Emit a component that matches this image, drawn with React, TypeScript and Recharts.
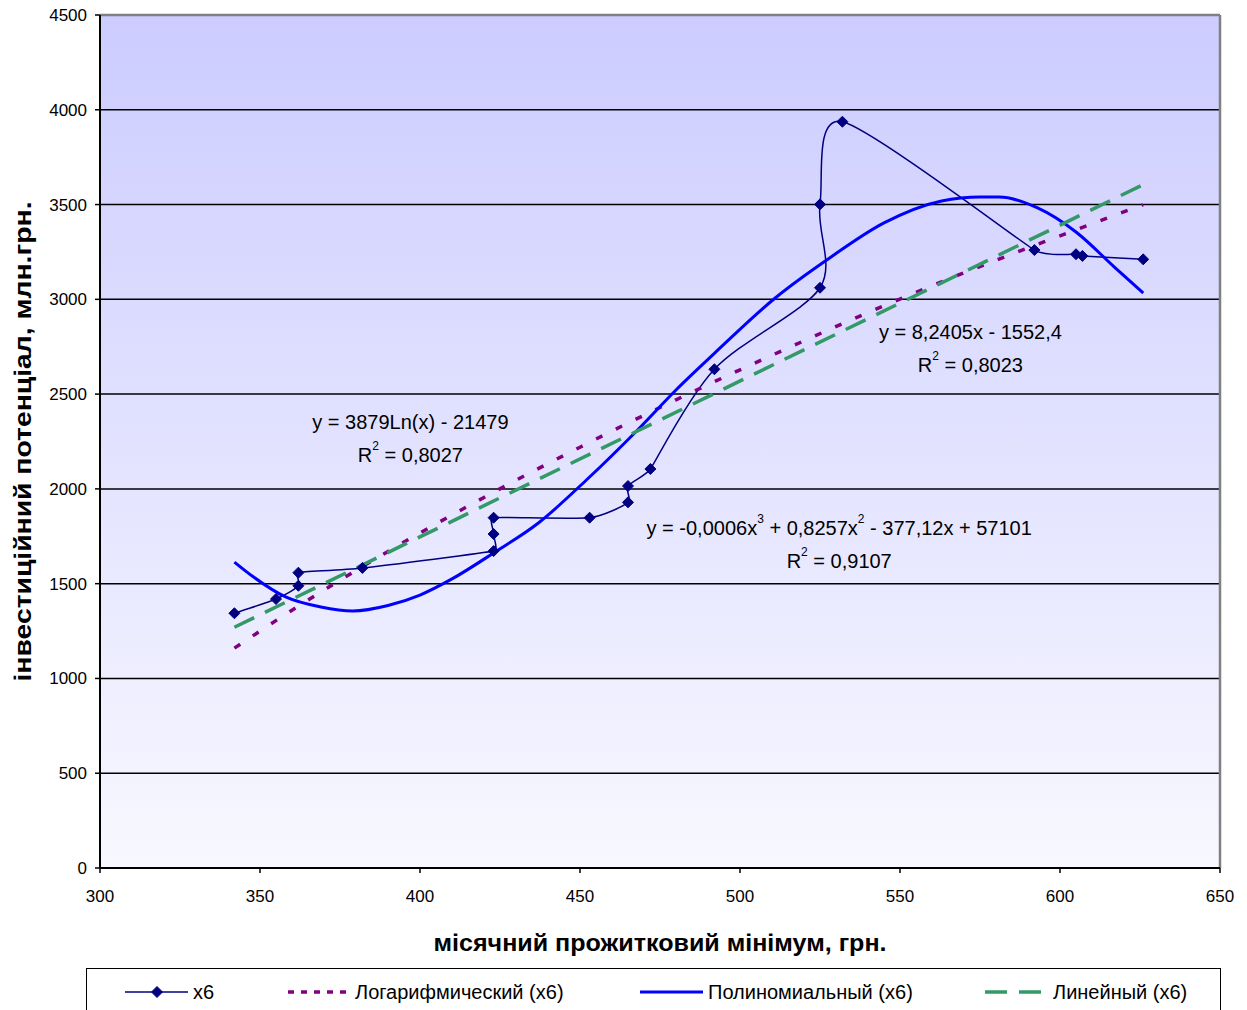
import {
  CartesianGrid,
  Line,
  LineChart,
  ReferenceDot,
  ReferenceLine,
  XAxis,
  YAxis,
} from "recharts";

const FONT = '"Liberation Sans", Arial, Helvetica, sans-serif';

// x6: monthly subsistence minimum (UAH) vs investment potential (mln UAH)
const x6Minimum = [342, 355, 362, 362, 382, 423, 423, 423, 453, 465, 465, 472, 492, 525, 525, 532, 592, 605, 607, 626];
const x6Potential = [1344, 1419, 1489, 1558, 1583, 1672, 1762, 1848, 1848, 1929, 2015, 2105, 2631, 3061, 3501, 3937, 3260, 3238, 3229, 3211];

// trend lines
const logTrendX = [342, 360, 390, 420, 450, 480, 510, 540, 570, 600, 626];
const logTrendY = [1160, 1360, 1670, 1955, 2220, 2470, 2705, 2930, 3140, 3335, 3500];

const polyTrendX = [342, 348, 358, 369, 379, 390, 400, 410, 423, 437, 452, 468, 480, 492, 511, 528, 545, 563, 575, 581, 593, 605, 617, 626];
const polyTrendY = [1614, 1535, 1430, 1377, 1356, 1385, 1440, 1525, 1662, 1820, 2047, 2311, 2522, 2715, 3007, 3218, 3403, 3519, 3540, 3540, 3482, 3355, 3170, 3033];

const linearTrendX = [342, 626];
const linearTrendY = [1270, 3605];

const xTicks = [300, 350, 400, 450, 500, 550, 600, 650];
const yTicks = [0, 500, 1000, 1500, 2000, 2500, 3000, 3500, 4000, 4500];

const xTitle = "місячний прожитковий мінімум, грн.";
const yTitle = "інвестиційний потенціал, млн.грн.";

const legendNames = ["x6", "Логарифмический (x6)", "Полиномиальный (x6)", "Линейный (x6)"];
const legendSlots = [162, 353, 345, 230];

const toPoints = (xs: number[], ys: number[]) => xs.map((x, i) => ({ x, y: ys[i] }));

const x6Data = toPoints(x6Minimum, x6Potential);
const logData = toPoints(logTrendX, logTrendY);
const polyData = toPoints(polyTrendX, polyTrendY);
const linearData = toPoints(linearTrendX, linearTrendY);

// Excel-like smoothed line: tangent along the neighbours' chord,
// handle length a third of the shorter adjacent segment
function excelSmooth(context: any) {
  let pts: [number, number][] = [];
  const dist = (a: [number, number], b: [number, number]) => Math.hypot(b[0] - a[0], b[1] - a[1]);
  const handle = (from: [number, number], to: [number, number], len: number): [number, number] => {
    const d = dist(from, to) || 1;
    return [((to[0] - from[0]) / d) * len, ((to[1] - from[1]) / d) * len];
  };
  return {
    areaStart() {},
    areaEnd() {},
    lineStart() {
      pts = [];
    },
    lineEnd() {
      if (!pts.length) return;
      context.moveTo(pts[0][0], pts[0][1]);
      for (let i = 0; i < pts.length - 1; i++) {
        const p0 = pts[Math.max(0, i - 1)];
        const p1 = pts[i];
        const p2 = pts[i + 1];
        const p3 = pts[Math.min(pts.length - 1, i + 2)];
        const seg = dist(p1, p2);
        const before = i > 0 ? dist(p0, p1) : seg;
        const after = i + 2 < pts.length ? dist(p2, p3) : seg;
        const h1 = handle(p0, p2, Math.min(seg, before) / 3);
        const h2 = handle(p1, p3, Math.min(seg, after) / 3);
        context.bezierCurveTo(p1[0] + h1[0], p1[1] + h1[1], p2[0] - h2[0], p2[1] - h2[1], p2[0], p2[1]);
      }
    },
    point(x: number, y: number) {
      pts.push([+x, +y]);
    },
  };
}

function Diamond({ cx, cy, size = 5.5 }: { cx?: number; cy?: number; size?: number }) {
  if (cx == null || cy == null) return null;
  return (
    <polygon
      points={`${cx},${cy - size} ${cx + size},${cy} ${cx},${cy + size} ${cx - size},${cy}`}
      fill="#000080"
      stroke="#000080"
      strokeWidth={1}
    />
  );
}

// parts: alternating normal / superscript text, starting with normal
function EqText({ cx, cy, parts }: { cx: number; cy: number; parts: string[] }) {
  return (
    <text x={cx} y={cy} fontSize={20} fill="#000" textAnchor="middle" dominantBaseline="central">
      {parts.map((p, i) =>
        i % 2 === 1 ? (
          <tspan key={i} dy={-9} fontSize={12}>
            {p}
          </tspan>
        ) : (
          <tspan key={i} dy={i === 0 ? 0 : 9}>
            {p}
          </tspan>
        ),
      )}
    </text>
  );
}

const eqShape = (parts: string[]) => (props: any) => <EqText cx={props.cx} cy={props.cy} parts={parts} />;

function LegendSymbol({ index }: { index: number }) {
  return (
    <svg width={63} height={24} style={{ display: "block", flex: "none" }}>
      {index === 0 ? (
        <>
          <line x1={0} y1={12} x2={63} y2={12} stroke="#000080" strokeWidth={1.5} />
          <Diamond cx={32} cy={12} />
        </>
      ) : null}
      {index === 1 ? (
        <line x1={1} y1={12} x2={63} y2={12} stroke="#800080" strokeWidth={3.5} strokeDasharray="6 7" />
      ) : null}
      {index === 2 ? <line x1={0} y1={12} x2={63} y2={12} stroke="#0000ff" strokeWidth={3} /> : null}
      {index === 3 ? (
        <line x1={0} y1={12} x2={63} y2={12} stroke="#339966" strokeWidth={3.5} strokeDasharray="22 12" />
      ) : null}
    </svg>
  );
}

export default function App() {
  return (
    <div
      style={{
        position: "absolute",
        left: 0,
        top: 0,
        width: 1247,
        height: 1010,
        overflow: "hidden",
        background: "#fff",
        fontFamily: FONT,
      }}
    >
      <LineChart width={1247} height={1010} margin={{ top: 15, right: 27, left: 0, bottom: 52 }} style={{ fontFamily: FONT }}>
        <defs>
          <linearGradient id="plotBg" x1="0" y1="0" x2="0" y2="1">
            <stop offset="0%" stopColor="#ccccff" />
            <stop offset="100%" stopColor="#f8f8ff" />
          </linearGradient>
        </defs>
        <CartesianGrid vertical={false} stroke="#000" strokeWidth={1.5} fill="url(#plotBg)" fillOpacity={1} />
        <XAxis
          type="number"
          dataKey="x"
          domain={[300, 650]}
          ticks={xTicks}
          allowDataOverflow
          height={90}
          tickSize={5}
          tickMargin={17}
          axisLine={{ stroke: "#000", strokeWidth: 2 }}
          tickLine={{ stroke: "#000", strokeWidth: 1.5 }}
          tick={{ fill: "#000", fontSize: 17 }}
          label={(props: any) => {
            const vb = props.viewBox;
            return (
              <text
                x={vb.x + vb.width / 2}
                y={vb.y + 74}
                textAnchor="middle"
                dominantBaseline="central"
                fontSize={24}
                fontWeight="bold"
                fill="#000"
                textLength={453}
                lengthAdjust="spacingAndGlyphs"
              >
                {xTitle}
              </text>
            );
          }}
        />
        <YAxis
          type="number"
          domain={[0, 4500]}
          ticks={yTicks}
          allowDataOverflow
          width={100}
          tickSize={5}
          tickMargin={8}
          axisLine={{ stroke: "#000", strokeWidth: 2 }}
          tickLine={{ stroke: "#000", strokeWidth: 1.5 }}
          tick={{ fill: "#000", fontSize: 17 }}
          label={(props: any) => {
            const vb = props.viewBox;
            const cx = vb.x + 22;
            const cy = vb.y + vb.height / 2;
            return (
              <text
                x={cx}
                y={cy}
                transform={`rotate(-90, ${cx}, ${cy})`}
                textAnchor="middle"
                dominantBaseline="central"
                fontSize={24}
                fontWeight="bold"
                fill="#000"
                textLength={480}
                lengthAdjust="spacingAndGlyphs"
              >
                {yTitle}
              </text>
            );
          }}
        />
        <ReferenceLine y={4500} stroke="#808080" strokeWidth={2.5} />
        <ReferenceLine x={650} stroke="#808080" strokeWidth={2.5} />

        <Line
          data={x6Data}
          dataKey="y"
          type={excelSmooth as any}
          stroke="#000080"
          strokeWidth={1.5}
          dot={(p: any) => <Diamond key={`d-${p.index}`} cx={p.cx} cy={p.cy} />}
          activeDot={false}
          isAnimationActive={false}
        />
        <Line
          data={logData}
          dataKey="y"
          type="monotone"
          stroke="#800080"
          strokeWidth={3.5}
          strokeDasharray="7 15"
          dot={false}
          activeDot={false}
          isAnimationActive={false}
        />
        <Line
          data={polyData}
          dataKey="y"
          type="monotone"
          stroke="#0000ff"
          strokeWidth={3}
          dot={false}
          activeDot={false}
          isAnimationActive={false}
        />
        <Line
          data={linearData}
          dataKey="y"
          type="linear"
          stroke="#339966"
          strokeWidth={3.5}
          strokeDasharray="22 12"
          dot={false}
          activeDot={false}
          isAnimationActive={false}
        />

        <ReferenceDot x={397} y={2353} r={1} shape={eqShape(["y = 3879Ln(x) - 21479"])} />
        <ReferenceDot x={397} y={2179} r={1} shape={eqShape(["R", "2", " = 0,8027"])} />
        <ReferenceDot x={572} y={2828} r={1} shape={eqShape(["y = 8,2405x - 1552,4"])} />
        <ReferenceDot x={572} y={2654} r={1} shape={eqShape(["R", "2", " = 0,8023"])} />
        <ReferenceDot
          x={531}
          y={1794}
          r={1}
          shape={eqShape(["y = -0,0006x", "3", " + 0,8257x", "2", " - 377,12x + 57101"])}
        />
        <ReferenceDot x={531} y={1620} r={1} shape={eqShape(["R", "2", " = 0,9107"])} />
      </LineChart>

      <div
        style={{
          position: "absolute",
          left: 86,
          top: 968,
          width: 1135,
          height: 70,
          boxSizing: "border-box",
          border: "1.5px solid #000",
          background: "#fff",
          display: "flex",
          alignItems: "flex-start",
          paddingLeft: 38,
          paddingTop: 11,
        }}
      >
        {legendNames.map((name, i) => (
          <div key={name} style={{ display: "flex", alignItems: "center", height: 24, width: legendSlots[i], flex: "none" }}>
            <LegendSymbol index={i} />
            <span style={{ fontSize: 20, color: "#000", marginLeft: 5, whiteSpace: "nowrap" }}>{name}</span>
          </div>
        ))}
      </div>
    </div>
  );
}
